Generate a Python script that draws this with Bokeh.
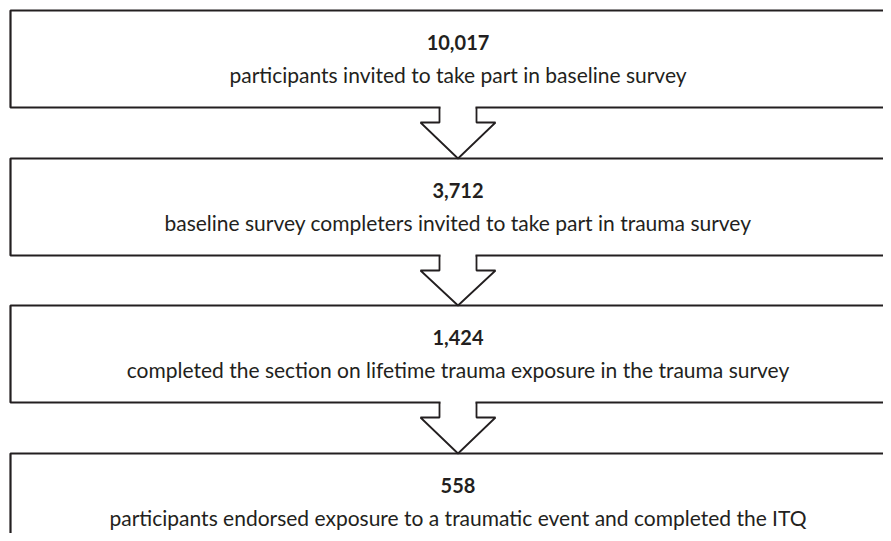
from bokeh.plotting import figure
from bokeh.models import Range1d
from bokeh.core.properties import value
from bokeh.embed import file_html
from bokeh.resources import INLINE

# data
counts = ["10,017", "3,712", "1,424", "558"]
descriptions = [
    "participants invited to take part in baseline survey",
    "baseline survey completers invited to take part in trauma survey",
    "completed the section on lifetime trauma exposure in the trauma survey",
    "participants endorsed exposure to a traumatic event and completed the ITQ",
]

# layout (pixel coordinates)
box_left = 10
box_right = 905
box_tops = [10, 158, 305, 453]
box_bottoms = [107, 255, 402, 560]
cx = 457.5
shaft_half = 18.5
head_half = 37.5
head_drop = 15
num_offset = 32
desc_offset = 64

STROKE = "#231f20"
FONT = "Lato"

p = figure(width=883, height=533, output_backend="svg", toolbar_location=None,
           x_range=Range1d(0, 883), y_range=Range1d(533, 0),
           min_border=0, outline_line_color=None)
p.axis.visible = False
p.grid.visible = False
p.background_fill_color = "white"
p.border_fill_color = "white"

# boxes
for t, b in zip(box_tops, box_bottoms):
    p.quad(left=box_left, right=box_right, top=t, bottom=b,
           fill_color="white", line_color=STROKE, line_width=2.2)

# arrows
for i in range(len(box_tops) - 1):
    b = box_bottoms[i]
    t = box_tops[i + 1]
    xs = [cx - shaft_half, cx - shaft_half, cx - head_half, cx, cx + head_half,
          cx + shaft_half, cx + shaft_half]
    ys = [b, b + head_drop, b + head_drop, t, b + head_drop, b + head_drop, b]
    # white cover for the opening in the box's bottom line
    p.patch([cx - shaft_half + 1, cx - shaft_half + 1, cx + shaft_half - 1, cx + shaft_half - 1],
            [b - 2, b + head_drop, b + head_drop, b - 2],
            fill_color="white", line_color=None)
    p.line(xs, ys, line_color=STROKE, line_width=1.8)

# texts
for i, (c, d) in enumerate(zip(counts, descriptions)):
    t = box_tops[i]
    p.text(x=[cx], y=[t + num_offset], text=[c], text_align="center",
           text_baseline="middle", text_font=value(FONT), text_font_style="bold",
           text_font_size="20px", text_color=STROKE)
    p.text(x=[cx], y=[t + desc_offset], text=[d], text_align="center",
           text_baseline="middle", text_font=value(FONT),
           text_font_size="21px", text_color=STROKE)

open("out.html", "w").write(file_html(p, INLINE))
